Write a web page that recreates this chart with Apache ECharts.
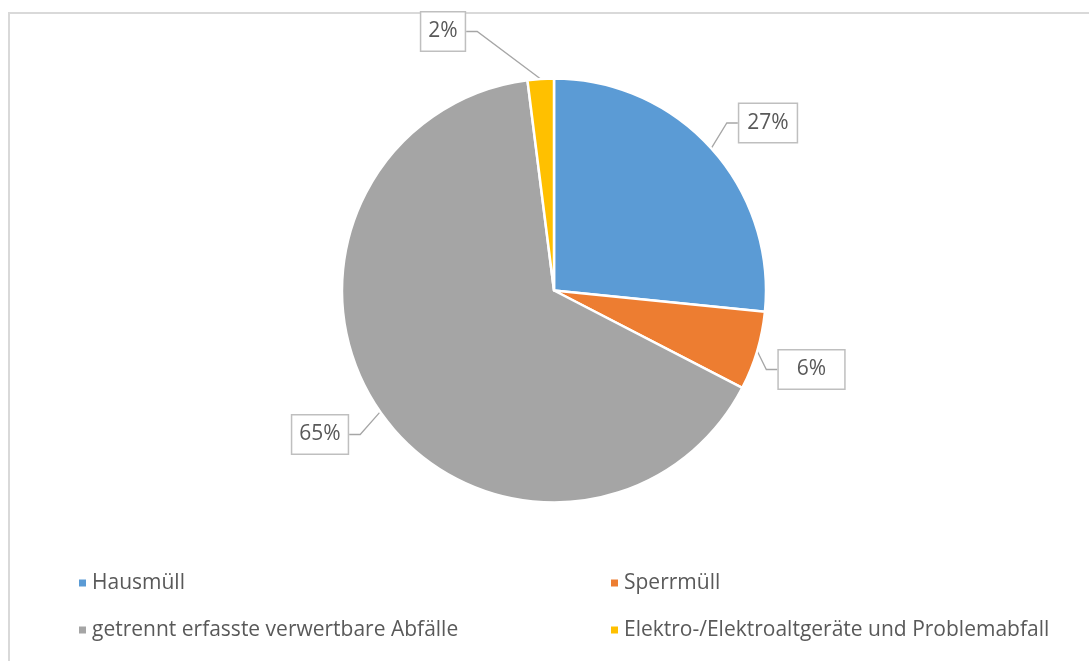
<!DOCTYPE html>
<html>
<head>
<meta charset="utf-8">
<script src="https://cdn.jsdelivr.net/npm/echarts@6/dist/echarts.min.js"></script>
<style>
html,body{margin:0;padding:0;background:#fff;}
#chart{width:1089px;height:661px;}
</style>
</head>
<body>
<div id="chart"></div>
<script>
// ---- data ----
const categories = ['Hausmüll', 'Sperrmüll', 'getrennt erfasste verwertbare Abfälle', 'Elektro-/Elektroaltgeräte und Problemabfall'];
const shares = [26.6, 6.0, 65.4, 2.0];
const colors = ['#5b9bd5', '#ed7d31', '#a5a5a5', '#ffc000'];

// ---- label placement (annotation boxes, centre x/y) ----
const labelPos = [[768, 123], [811.5, 369.5], [320, 434.5], [443, 31.5]];
const labelPad = [[7, 8], [7, 18], [7, 7], [7, 7]];

const chart = echarts.init(document.getElementById('chart'), null, {renderer: 'canvas'});

const seriesData = categories.map((c, i) => ({
  name: c,
  value: shares[i],
  itemStyle: {color: colors[i]},
  label: {padding: labelPad[i]}
}));

chart.setOption({
  animation: false,
  backgroundColor: '#ffffff',
  graphic: [{
    type: 'rect',
    shape: {x: 9, y: 13, width: 1200, height: 800},
    style: {fill: 'none', stroke: '#d9d9d9', lineWidth: 2},
    silent: true
  }],
  legend: {
    left: 77,
    top: 568,
    width: 1050,
    padding: 0,
    orient: 'horizontal',
    icon: 'rect',
    itemWidth: 9,
    itemHeight: 9,
    itemGap: 17,
    textStyle: {
      color: '#595959',
      fontFamily: 'Open Sans',
      fontSize: 21,
      width: 500,
      lineHeight: 30
    },
    data: categories
  },
  series: [{
    type: 'pie',
    center: [554, 290.5],
    radius: 212,
    startAngle: 90,
    clockwise: true,
    data: seriesData,
    itemStyle: {borderColor: '#ffffff', borderWidth: 2.5},
    label: {
      show: true,
      position: 'outside',
      formatter: p => Math.round(p.value) + '%',
      color: '#595959',
      fontFamily: 'Open Sans',
      fontSize: 21,
      lineHeight: 24,
      backgroundColor: '#ffffff',
      borderColor: '#bfbfbf',
      borderWidth: 1.5
    },
    labelLine: {
      show: true,
      length: 15,
      length2: 11,
      lineStyle: {color: '#a6a6a6', width: 1.3}
    },
    labelLayout: function (p) {
      const pos = labelPos[p.dataIndex];
      return {x: pos[0], y: pos[1], align: 'center', verticalAlign: 'middle', moveOverlap: false, hideOverlap: false};
    },
    emphasis: {disabled: true}
  }]
});
</script>
</body>
</html>
